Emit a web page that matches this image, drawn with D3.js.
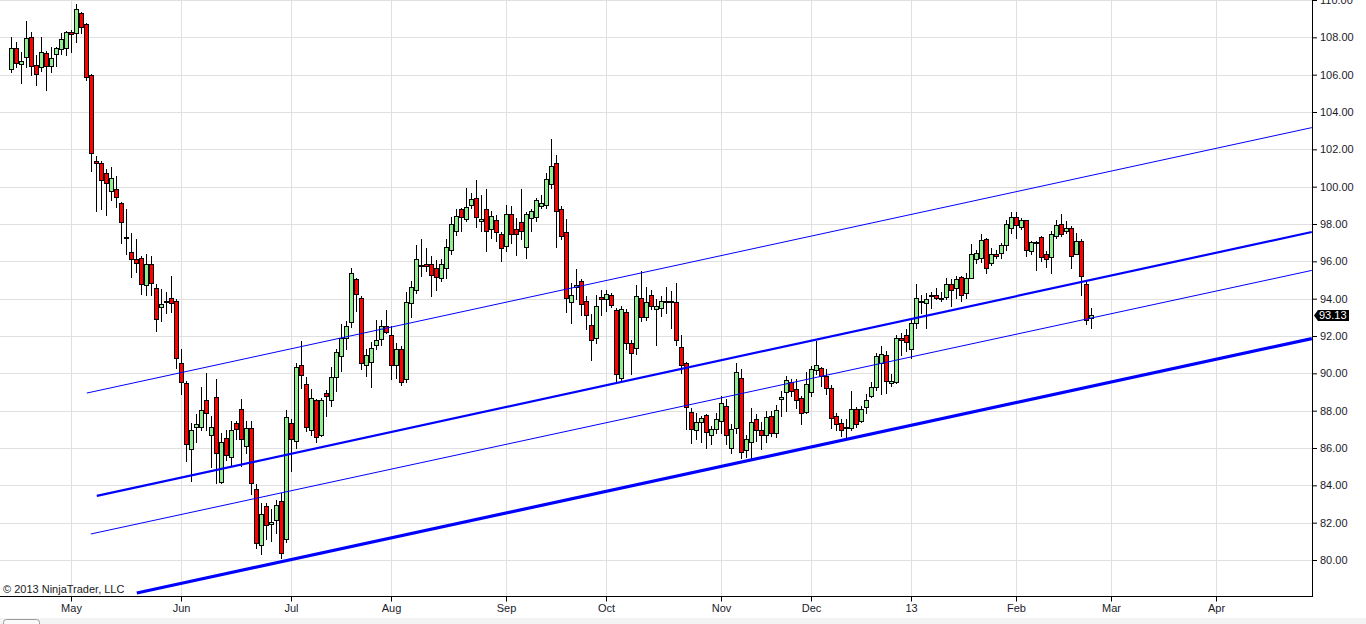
<!DOCTYPE html>
<html>
<head>
<meta charset="utf-8">
<script src="https://cdnjs.cloudflare.com/ajax/libs/d3/7.8.5/d3.min.js"></script>
<style>
  body { margin: 0; background: #fff; overflow: hidden; }
  svg text { font-family: "Liberation Sans", Arial, sans-serif; font-size: 11px; }
</style>
</head>
<body>
<svg id="chart" width="1366" height="624"></svg>
<script>
// daily bars (bar index 0 = first bar on the left)
var opens = [
  106.31, 107.44, 106.58, 106.96, 108.03, 106.53, 106.42, 107.17, 106.49, 107.12,
  107.35, 107.44, 108.30, 108.24, 109.31, 108.72, 105.96, 101.40, 101.28, 100.74,
  99.76, 99.89, 99.14, 97.29, 96.51, 96.15, 96.19, 94.72, 95.87, 94.58,
  93.56, 93.83, 94.03, 93.89, 90.56, 89.46, 85.96, 87.14, 87.14, 88.55,
  86.67, 88.74, 84.19, 86.55, 85.51, 87.35, 88.10, 86.13, 87.08, 83.78,
  80.83, 82.88, 81.94, 82.13, 83.15, 81.14, 87.35, 86.36, 90.44, 89.44,
  86.94, 88.55, 86.71, 88.92, 88.56, 89.82, 90.92, 91.87, 92.76, 95.03,
  94.05, 90.47, 90.62, 91.54, 91.85, 92.53, 92.06, 90.47, 91.31, 89.67,
  93.78, 94.49, 95.74, 95.87, 95.87, 95.65, 95.12, 95.65, 96.63, 97.65,
  98.78, 98.28, 99.04, 99.40, 98.15, 98.78, 97.74, 98.20, 97.44, 96.83,
  98.51, 97.71, 98.12, 96.78, 98.33, 98.39, 98.99, 99.04, 100.15, 101.28,
  98.81, 97.58, 93.83, 94.64, 94.97, 93.86, 92.58, 91.87, 94.10, 93.96,
  94.21, 93.38, 89.76, 93.28, 91.64, 91.37, 94.05, 93.03, 94.19, 93.42,
  93.51, 93.84, 93.90, 93.83, 91.42, 90.53, 87.94, 86.99, 87.38, 87.76,
  86.67, 87.03, 87.47, 88.24, 86.01, 87.05, 89.76, 85.87, 86.33, 87.56,
  86.94, 86.72, 87.70, 86.78, 88.64, 89.01, 89.52, 89.17, 88.69, 87.94,
  89.01, 90.17, 90.30, 89.88, 89.22, 87.74, 87.35, 87.05, 87.05, 88.10,
  87.47, 88.21, 88.81, 89.28, 90.56, 90.96, 89.49, 89.55, 91.90, 92.04,
  91.33, 92.71, 93.87, 93.78, 94.13, 94.22, 94.05, 94.08, 94.81, 94.58,
  95.15, 94.31, 95.12, 96.10, 96.19, 97.21, 95.92, 96.40, 96.46, 96.86,
  97.76, 98.36, 97.85, 98.19, 96.58, 97.05, 97.31, 96.37, 96.24, 97.35,
  98.01, 97.61, 97.80, 96.40, 97.08, 94.76, 92.98
]
var highs = [
  108.03, 107.74, 107.20, 108.85, 108.31, 107.03, 108.04, 107.26, 107.47, 107.47,
  108.24, 108.33, 108.38, 109.81, 109.35, 108.78, 106.05, 101.63, 101.36, 100.92,
  101.04, 100.56, 99.19, 98.83, 97.53, 97.22, 96.28, 96.37, 96.31, 94.76,
  94.53, 94.37, 95.24, 93.96, 91.33, 89.58, 87.35, 87.80, 89.28, 90.03,
  87.70, 89.67, 86.78, 86.99, 87.47, 87.44, 88.65, 87.44, 87.44, 84.05,
  83.06, 83.06, 82.71, 83.20, 83.60, 88.06, 87.53, 90.56, 91.72, 89.82,
  89.17, 88.60, 88.69, 89.13, 90.35, 91.28, 92.62, 92.79, 95.65, 95.12,
  94.13, 91.28, 91.67, 92.88, 92.88, 93.37, 92.53, 91.64, 91.45, 94.38,
  94.94, 96.85, 97.17, 96.73, 96.31, 96.05, 96.10, 97.17, 98.39, 98.78,
  98.87, 99.94, 99.67, 100.38, 99.58, 99.85, 98.69, 98.46, 97.56, 99.04,
  98.95, 98.33, 99.85, 98.63, 98.78, 99.40, 99.53, 100.74, 102.53, 101.72,
  98.99, 98.29, 94.85, 95.60, 95.03, 94.13, 93.19, 94.22, 94.49, 94.49,
  94.31, 93.51, 93.60, 93.42, 91.81, 94.71, 95.47, 94.64, 94.49, 93.96,
  94.13, 94.64, 94.40, 94.85, 92.08, 90.60, 88.15, 87.89, 87.70, 87.80,
  87.17, 87.89, 88.78, 88.60, 87.26, 90.56, 90.21, 86.72, 88.12, 87.80,
  87.38, 87.97, 87.97, 88.33, 89.04, 89.85, 89.71, 89.67, 88.78, 90.06,
  90.38, 91.72, 90.35, 90.21, 89.40, 87.89, 87.53, 87.53, 89.04, 88.21,
  88.24, 88.87, 89.52, 91.10, 91.45, 91.19, 89.94, 92.08, 92.17, 92.35,
  92.98, 94.80, 94.22, 94.31, 94.37, 94.58, 94.37, 95.12, 95.08, 95.20,
  95.20, 95.39, 96.94, 96.63, 97.44, 97.26, 96.73, 96.63, 96.99, 98.24,
  98.65, 98.65, 98.33, 98.24, 97.08, 97.08, 97.35, 96.54, 97.61, 98.24,
  98.55, 98.15, 97.88, 97.53, 97.17, 94.90, 93.51
]
var lows = [
  106.13, 106.40, 105.56, 106.40, 105.99, 105.46, 106.19, 105.17, 106.13, 106.45,
  107.12, 107.04, 107.20, 107.74, 108.24, 105.74, 100.83, 98.69, 98.83, 98.47,
  99.28, 98.92, 96.99, 96.37, 95.17, 95.44, 94.26, 94.17, 94.21, 92.26,
  92.79, 93.24, 93.30, 90.30, 88.90, 85.29, 84.22, 86.31, 86.99, 86.99,
  84.99, 84.14, 84.10, 85.38, 85.03, 86.46, 85.03, 85.74, 83.51, 80.62,
  80.30, 81.10, 81.01, 81.46, 80.12, 80.95, 84.76, 86.01, 89.22, 86.90,
  86.69, 86.31, 86.63, 87.70, 88.24, 89.08, 90.11, 91.31, 92.49, 93.33,
  90.21, 89.85, 89.28, 91.33, 91.54, 92.17, 89.71, 89.76, 89.35, 89.51,
  93.03, 94.31, 95.20, 95.47, 94.13, 94.49, 94.94, 95.12, 96.37, 97.40,
  97.61, 98.15, 98.87, 97.83, 97.61, 96.54, 97.26, 97.08, 96.01, 96.54,
  96.99, 96.33, 97.17, 96.19, 97.61, 98.15, 98.87, 98.87, 99.94, 96.78,
  97.21, 93.28, 92.71, 93.96, 93.15, 92.35, 90.74, 91.64, 93.15, 93.33,
  93.56, 89.52, 89.58, 91.33, 89.98, 91.01, 92.79, 92.85, 93.42, 91.54,
  93.06, 93.24, 92.44, 91.54, 90.03, 87.03, 86.28, 86.46, 86.33, 86.01,
  86.23, 86.82, 86.82, 86.19, 85.71, 86.78, 85.48, 85.53, 85.48, 86.36,
  85.92, 86.31, 86.63, 86.60, 87.74, 87.97, 88.78, 88.15, 87.31, 87.89,
  88.78, 89.94, 89.31, 88.87, 87.05, 86.99, 86.63, 86.51, 86.99, 87.14,
  87.38, 87.89, 88.72, 89.13, 88.87, 88.96, 89.31, 89.49, 90.97, 91.19,
  90.83, 92.44, 93.24, 92.44, 93.51, 93.96, 93.86, 93.96, 93.60, 94.05,
  93.86, 94.05, 95.10, 95.92, 95.98, 95.39, 95.79, 96.19, 96.19, 96.63,
  97.53, 97.26, 97.71, 96.28, 96.37, 95.51, 96.01, 95.69, 95.39, 97.26,
  97.35, 97.53, 95.65, 96.37, 94.19, 92.65, 92.44
]
var closes = [
  107.44, 106.64, 106.71, 107.98, 106.49, 106.05, 107.23, 106.49, 106.90, 107.44,
  107.92, 108.30, 108.19, 109.53, 108.56, 105.89, 101.81, 101.28, 100.38, 100.17,
  100.44, 99.46, 98.12, 97.24, 96.14, 95.90, 94.80, 95.87, 94.85, 92.92,
  93.69, 93.89, 93.78, 90.83, 89.55, 86.24, 86.99, 87.30, 88.06, 87.85,
  87.14, 85.74, 86.31, 85.65, 86.94, 87.03, 86.46, 87.05, 84.14, 80.92,
  82.48, 81.90, 82.05, 82.92, 80.39, 87.67, 86.46, 90.35, 89.90, 87.14,
  88.69, 86.60, 88.55, 88.81, 89.82, 91.15, 91.90, 92.56, 95.39, 94.26,
  90.56, 90.96, 91.37, 91.81, 92.53, 92.23, 90.47, 91.31, 89.55, 93.83,
  94.64, 96.10, 95.83, 95.74, 95.26, 95.17, 95.87, 96.78, 98.01, 98.42,
  98.39, 98.92, 99.35, 98.39, 98.29, 97.61, 98.42, 97.58, 96.73, 98.55,
  97.44, 97.49, 97.65, 98.55, 98.69, 99.28, 99.14, 100.42, 101.13, 98.72,
  97.38, 94.05, 94.19, 94.71, 93.74, 93.15, 91.76, 93.60, 93.96, 94.26,
  93.65, 89.94, 93.47, 91.64, 91.10, 94.13, 93.03, 93.81, 93.63, 93.63,
  93.90, 93.90, 93.85, 91.81, 90.47, 88.21, 87.03, 87.40, 87.62, 86.87,
  87.03, 87.56, 88.42, 86.72, 87.03, 90.08, 85.80, 86.46, 87.38, 86.94,
  86.71, 87.65, 86.82, 88.06, 88.74, 89.63, 89.08, 88.55, 87.85, 89.44,
  90.24, 90.47, 89.85, 89.22, 87.62, 87.31, 86.94, 87.14, 88.10, 87.26,
  88.10, 88.55, 89.28, 90.92, 91.05, 89.58, 89.58, 91.90, 91.81, 91.69,
  92.71, 94.05, 93.84, 93.99, 94.17, 94.05, 93.99, 94.76, 94.49, 95.03,
  94.22, 95.12, 96.40, 96.46, 97.12, 95.65, 96.40, 96.31, 96.86, 98.01,
  98.36, 97.94, 98.20, 96.63, 97.05, 97.00, 96.22, 96.15, 97.48, 97.94,
  97.44, 97.76, 96.28, 97.08, 95.20, 92.88, 93.13
]

// axis ticks
var priceTicks = [80, 82, 84, 86, 88, 90, 92, 94, 96, 98, 100, 102, 104, 106, 108, 110]
var monthLabels = ['May', 'Jun', 'Jul', 'Aug', 'Sep', 'Oct', 'Nov', 'Dec', '13', 'Feb', 'Mar', 'Apr']
var monthBars = [12, 34, 56, 76, 99, 119, 142, 160, 180, 201, 220, 241]

// drawn channel lines: [bar, price] at each end
var trendFrom = [[15.1, 88.97], [17.1, 83.46], [15.9, 81.42], [25.1, 78.26]]
var trendTo = [[260.1, 103.19], [260.1, 97.60], [260.1, 95.54], [260.1, 91.89]]
var trendWidth = [1, 2.2, 1, 3.2]

var lastPrice = 93.13

var svg = d3.select('#chart')
var plotW = 1312
var plotH = 597

var x = d3.scaleLinear().domain([-2.26, 260.14]).range([0, plotW])
var y = d3.scaleLinear().domain([80, 110]).range([560.5, 0.5])
var px = function (i) { return Math.floor(x(i)) + 0.5 }
var py = function (v) { return Math.floor(y(v)) + 0.5 }

svg.append('defs').append('clipPath').attr('id', 'plotClip')
  .append('rect').attr('x', 0).attr('y', 0).attr('width', plotW).attr('height', plotH)

/** grid */
var grid = svg.append('g').attr('shape-rendering', 'crispEdges')
grid.selectAll('.hgrid').data(priceTicks).enter().append('line')
  .attr('x1', 0).attr('x2', plotW)
  .attr('y1', function (d) { return py(d) }).attr('y2', function (d) { return py(d) })
  .style('stroke', '#e0e0e0')
grid.selectAll('.vgrid').data(monthBars).enter().append('line')
  .attr('x1', function (d) { return px(d) }).attr('x2', function (d) { return px(d) })
  .attr('y1', 0).attr('y2', plotH)
  .style('stroke', '#e0e0e0')

/** candles */
var bars = d3.range(opens.length)
var plot = svg.append('g').attr('clip-path', 'url(#plotClip)')
var candles = plot.append('g').attr('shape-rendering', 'crispEdges')
candles.selectAll('.wick').data(bars).enter().append('line')
  .attr('x1', function (i) { return px(i) }).attr('x2', function (i) { return px(i) })
  .attr('y1', function (i) { return Math.floor(y(highs[i])) })
  .attr('y2', function (i) { return Math.floor(y(lows[i])) + 1 })
  .style('stroke', '#000').style('stroke-width', 1)
candles.selectAll('.body').data(bars).enter().append('rect')
  .attr('x', function (i) { return px(i) - 2 })
  .attr('width', 4)
  .attr('y', function (i) { return py(Math.max(opens[i], closes[i])) })
  .attr('height', function (i) {
    return Math.max(1, py(Math.min(opens[i], closes[i])) - py(Math.max(opens[i], closes[i])))
  })
  .style('fill', function (i) { return closes[i] > opens[i] ? '#90ee90' : '#ff0000' })
  .style('stroke', '#000').style('stroke-width', 1)

/** channel lines */
plot.append('g').selectAll('line').data(trendFrom).enter().append('line')
  .attr('x1', function (d) { return x(d[0]) }).attr('y1', function (d) { return y(d[1]) })
  .attr('x2', function (d, j) { return x(trendTo[j][0]) }).attr('y2', function (d, j) { return y(trendTo[j][1]) })
  .style('stroke', '#0000ff')
  .style('stroke-width', function (d, j) { return trendWidth[j] })

/** axes */
var yAxis = d3.axisRight(y.copy().range([560, 0])).tickValues(priceTicks).tickFormat(d3.format('.2f')).tickSize(5).tickSizeOuter(0)
var gy = svg.append('g').attr('transform', 'translate(' + plotW + ',0)').call(yAxis)
var xAxis = d3.axisBottom(x.copy().range([-0.3, plotW - 0.3])).tickValues(monthBars)
  .tickFormat(function (d, i) { return monthLabels[i] }).tickSize(5).tickSizeOuter(0)
var gx = svg.append('g').attr('transform', 'translate(0,' + (plotH - 0.5) + ')').call(xAxis)
;[gx, gy].forEach(function (g) {
  g.select('.domain').remove()
  g.attr('font-family', '"Liberation Sans", Arial, sans-serif').attr('font-size', 11).style('color', '#000')
})
gx.selectAll('text').style('fill', '#1a1a2a')
gy.selectAll('text').style('fill', '#1a1a2a')

svg.append('g').attr('shape-rendering', 'crispEdges').call(function (g) {
  g.append('line').attr('x1', 0).attr('x2', plotW + 0.5).attr('y1', plotH - 0.5).attr('y2', plotH - 0.5).style('stroke', '#000')
  g.append('line').attr('x1', plotW + 0.5).attr('x2', plotW + 0.5).attr('y1', 0).attr('y2', plotH).style('stroke', '#000')
})

/** last price marker */
var ly = y(lastPrice)
svg.append('path')
  .attr('d', 'M' + (plotW + 2) + ',' + ly + 'L' + (plotW + 6) + ',' + (ly - 5.5) + 'L' + (plotW + 37) + ',' + (ly - 5.5) +
    'L' + (plotW + 37) + ',' + (ly + 5.5) + 'L' + (plotW + 6) + ',' + (ly + 5.5) + 'Z')
  .style('fill', '#000')
svg.append('text').attr('x', plotW + 7).attr('y', ly).attr('dy', '0.35em')
  .style('fill', '#fff').text(d3.format('.2f')(lastPrice))

/** copyright + scroll strip */
svg.append('text').attr('x', 3).attr('y', 593).style('fill', '#1a1a1a').text('\u00a9 2013 NinjaTrader, LLC')
svg.append('rect').attr('x', 0).attr('y', 618).attr('width', 1366).attr('height', 6).style('fill', '#f3f3f3')
svg.append('rect').attr('x', 3.5).attr('y', 619.5).attr('width', 36).attr('height', 10).attr('rx', 3)
  .style('fill', '#fafafa').style('stroke', '#9a9a9a')
</script>
</body>
</html>
